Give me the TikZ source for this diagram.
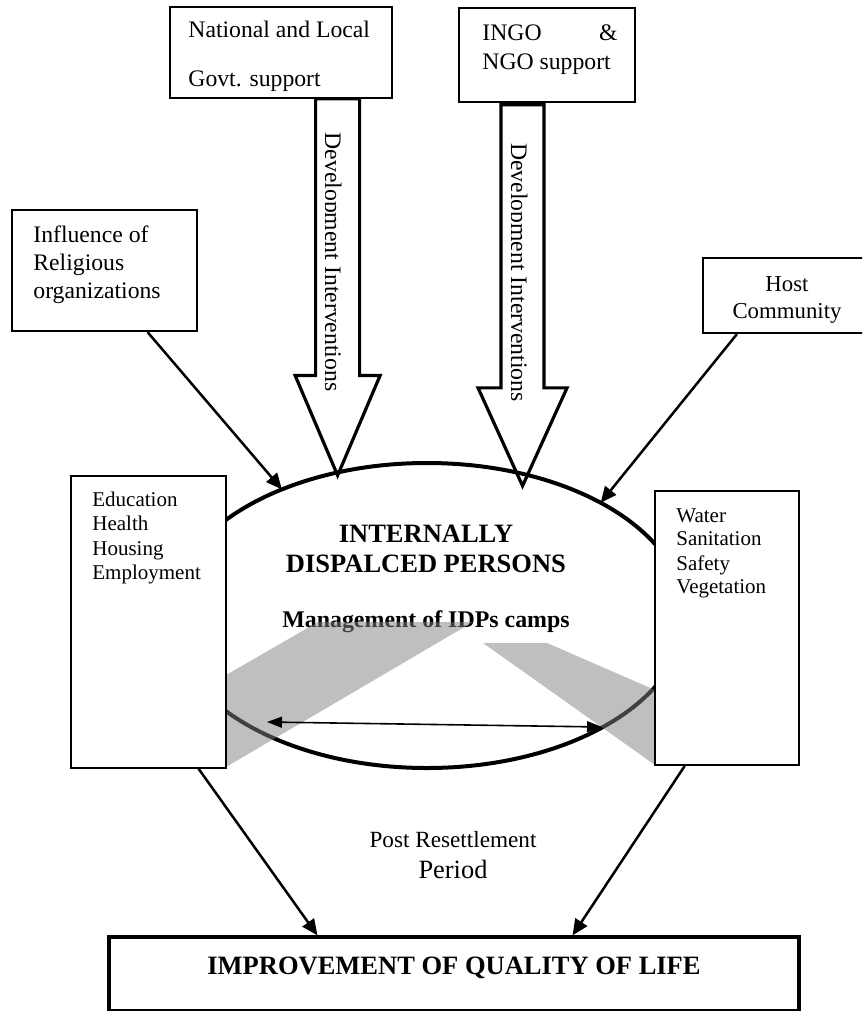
\documentclass[tikz,border=0pt]{standalone}
\usepackage{fontspec}
\setmainfont{Liberation Serif}
\usetikzlibrary{shapes.geometric,arrows.meta,calc,fit}
\newcommand\szbody{\fontsize{11.85}{14}\selectfont}
\newcommand\szhost{\fontsize{11.4}{14}\selectfont}
\newcommand\szsmall{\fontsize{10.5}{12}\selectfont}
\newcommand\szpost{\fontsize{11.6}{14}\selectfont}
\newcommand\szbig{\fontsize{13.2}{16}\selectfont}
\newcommand\sztitle{\fontsize{13.25}{16}\bfseries\selectfont}
\newcommand\szsub{\fontsize{11.95}{14}\bfseries\selectfont}
\begin{document}
\begin{tikzpicture}[x=0.5pt,y=-0.5pt,
  box/.style={draw, fill=white, inner sep=0, line width=0.8pt},
  txt/.style={inner sep=0, font=\szbody},
  conn/.style={line width=1.25pt, -{Triangle[length=8pt,width=7pt]}},
  blockarrow/.style={draw, fill=white, line width=1.6pt, line join=miter},
  band/.style={fill=gray, fill opacity=0.5},
  dbl/.style={line width=0.8pt, {Triangle[length=7.5pt,width=5.5pt]}-{Triangle[length=7.5pt,width=5.5pt]}},
]
\useasboundingbox (0,0) rectangle (862,1011);
\clip (0,0) rectangle (862,1011);

% support boxes at the top
\node[box, fit={(170,7) (392,98)}] (g1) {};
\node[txt, anchor=base west] (g1a) at (188,38) {National and Local};
\node[txt, anchor=base west] (g1b) at (188,87) {Govt. support};

\node[box, fit={(459,8) (635,102)}] (g2) {};
\node[txt, anchor=base west] (g2a) at (482,41) {INGO};
\node[txt, anchor=base east] (g2b) at (618,41) {\&};
\node[txt, anchor=base west] (g2c) at (482,70) {NGO support};

% central ellipse
\node[ellipse, inner sep=0, outer sep=0, minimum width=258pt, minimum height=152.5pt] (idp) at (427,615.5) {};

% development intervention block arrows
\coordinate (t1) at ($(idp.122)+(0,3)$);
\coordinate (t2) at ($(idp.56)+(0,12)$);
\draw[blockarrow] ($(t1 |- g1.south)+(-22,0)$) -- ($(t1)+(-22,-100)$) -- ($(t1)+(-42.5,-100)$)
  -- (t1) -- ($(t1)+(42.5,-100)$) -- ($(t1)+(22,-100)$) -- ($(t1 |- g1.south)+(22,0)$) -- cycle;
\draw[blockarrow] ($(t2 |- g2.south)+(-21.5,2)$) -- ($(t2)+(-21.5,-98)$) -- ($(t2)+(-44.5,-98)$)
  -- (t2) -- ($(t2)+(44.5,-98)$) -- ($(t2)+(21.5,-98)$) -- ($(t2 |- g2.south)+(21.5,2)$) -- cycle;
\begin{scope}
  \clip (325,100) rectangle (358,400);
  \node[txt, rotate=-90, anchor=base] (dev1) at (325,262) {Development Interventions};
\end{scope}
\begin{scope}
  \clip (511,105) rectangle (543,410);
  \node[txt, rotate=-90, anchor=base] (dev2) at (511,272.5) {Development Interventions};
\end{scope}

\draw[line width=2pt] (idp.center) ellipse [x radius=258, y radius=152.5];

\node[txt, font=\sztitle, anchor=base] (ti1) at (426,542) {INTERNALLY};
\node[txt, font=\sztitle, anchor=base] (ti2) at (426,572) {DISPALCED PERSONS};
\node[txt, font=\szsub, anchor=base] (ti3) at (426,627) {Management of IDPs camps};

% shaded bands
\fill[band] (318,622) -- (473,622) -- (226,767) -- (226,675) -- cycle;
\fill[band] (483,643) -- (547,643) -- (655,690) -- (655,765) -- cycle;

\coordinate (dl) at (267,722);
\coordinate (dr) at (602,727);
\draw[dbl] (dl) -- (dr);

% side boxes
\node[box, fit={(71,476) (226,768)}] (edu) {};
\foreach \t/\y [count=\i] in {Education/506, Health/530, Housing/555, Employment/579}
  \node[txt, font=\szsmall, anchor=base west] (edu\i) at (92,\y) {\t};
\node[box, line width=1pt, fit={(655,491) (799,765)}] (wat) {};
\foreach \t/\y [count=\i] in {Water/522, Sanitation/545, Safety/570, Vegetation/593}
  \node[txt, font=\szsmall, anchor=base west] (wat\i) at (676,\y) {\t};

% influence boxes
\node[box, line width=1.1pt, fit={(12,210) (197,331)}] (rel) {};
\foreach \t/\y [count=\i] in {Influence of/242, Religious/270, organizations/298}
  \node[txt, anchor=base west] (rel\i) at (33,\y) {\t};
\node[box, line width=1.1pt, fit={(703,258) (868,333)}] (host) {};
\node[txt, font=\szhost, anchor=base] (host1) at (787,291) {Host};
\node[txt, font=\szhost, anchor=base] (host2) at (787,318) {Community};

% outcome box
\node[box, line width=1.6pt, fit={(109,937) (799,1011)}] (qol) {};
\node[txt, font=\sztitle, anchor=base] (qolt) at (454,974) {IMPROVEMENT OF QUALITY OF LIFE};

\node[txt, font=\szpost, anchor=base] (post1) at (453,847) {Post Resettlement};
\node[txt, font=\szbig, anchor=base] (post2) at (453,878) {Period};

% connectors
\coordinate (relout) at ($(rel.south west)!0.73!(rel.south east)$);
\coordinate (hostout) at ($(host.south west)+(35,0)$);
\coordinate (eduout) at ($(edu.south west)!0.82!(edu.south east)$);
\coordinate (watout) at ($(wat.south west)!0.21!(wat.south east)$);
\coordinate (qolin1) at ($(qol.north west)!0.303!(qol.north east)$);
\coordinate (qolin2) at ($(qol.north west)!0.671!(qol.north east)$);
\draw[conn] (relout) -- (idp.139);
\draw[conn] (hostout) -- (idp.33);
\draw[conn] (eduout) -- (qolin1);
\draw[conn] (watout) -- (qolin2);
\end{tikzpicture}
\end{document}
